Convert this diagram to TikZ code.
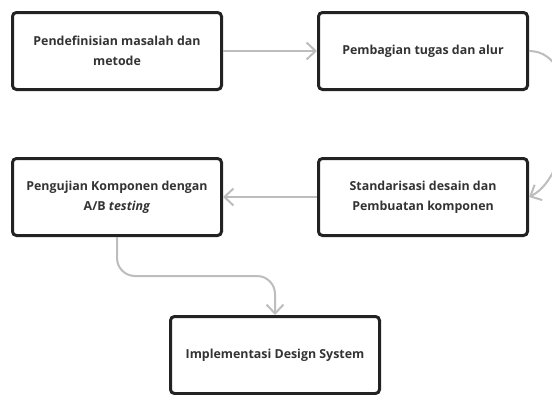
\documentclass[tikz,border=0pt]{standalone}
\usepackage{fontspec}
\setmainfont{Open Sans}
\usetikzlibrary{arrows.meta}
\definecolor{boxline}{HTML}{222222}
\definecolor{flowline}{HTML}{BDBDBD}
\definecolor{labeltext}{HTML}{333333}
\tikzset{
  stage/.style={draw=boxline, line width=3pt, rounded corners=4pt, fill=white,
    minimum width=209pt, minimum height=77pt, align=center, text=labeltext,
    font=\bfseries\fontsize{12.4}{20}\selectfont},
  flow/.style={draw=flowline, line width=2pt,
    -{Straight Barb[length=9pt,width=17pt,line width=2pt]}}
}

\begin{document}
\begin{tikzpicture}[x=1pt,y=1pt]
		%%%%% START %%%%%
		\useasboundingbox (0,0) rectangle (552,-394);
		\clip (0,0) rectangle (552,-394);
		
		\node[stage] (definisi) at (117,-51) {Pendefinisian masalah dan\\metode};
		\node[stage] (bagi) at (423,-51) {Pembagian tugas dan alur};
		
		\node[stage] (standar) at (423,-197) {Standarisasi desain dan\\Pembuatan komponen};
		\node[stage] (uji) at (117,-197) {Pengujian Komponen dengan\\A/B \textit{testing}};
		
		\node[stage] (impl) at (275,-355) {Implementasi Design System};
		\coordinate (belok) at (275,-276);
		
		\draw[flow] (definisi.east) -- (bagi.west);
		\draw[flow] (bagi.east) .. controls +(55,0) and +(45,22) .. (standar.east);
		\draw[flow] (standar.west) -- (uji.east);
		\draw[flow, rounded corners=18pt] (uji.south) |- (belok) -- (impl.north);
		
		%%%%% END %%%%%
\end{tikzpicture}
\end{document}
